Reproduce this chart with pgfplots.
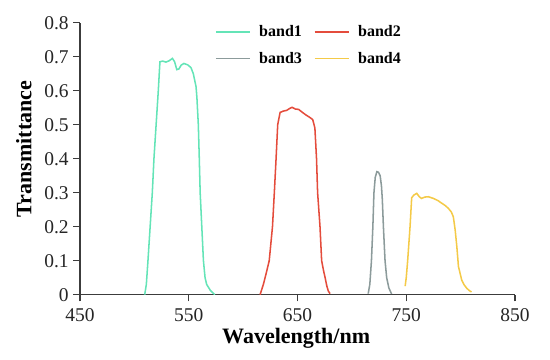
\documentclass[border=0pt]{standalone}
\usepackage{fontspec}
\setmainfont{Liberation Serif}
\usepackage{pgfplots}
\pgfplotsset{compat=1.18}
\definecolor{cgreen}{RGB}{100,228,183}
\definecolor{cred}{RGB}{228,76,60}
\definecolor{cgray}{RGB}{140,155,155}
\definecolor{cyellow}{RGB}{244,202,72}
\definecolor{axc}{RGB}{60,60,60}
\begin{document}
\begin{tikzpicture}
\begin{axis}[
  at={(0,0)}, anchor=south west,
  scale only axis, width=326.25pt, height=204pt,
  xmin=450, xmax=850, ymin=0, ymax=0.8,
  axis lines*=left,
  axis line style={axc, line width=0.9pt},
  tick style={axc, line width=0.9pt},
  tick align=outside, major tick length=5pt,
  xtick={450,550,650,750,850},
  ytick={0,0.1,0.2,0.3,0.4,0.5,0.6,0.7,0.8},
  /pgf/number format/assume math mode=true,
  ticklabel style={font=\fontsize{14.6}{16}\selectfont, text=black!85},
  xticklabel style={yshift=-2pt},
  xlabel={Wavelength/nm}, ylabel={Transmittance},
  label style={font=\fontsize{16.5}{18}\selectfont\bfseries},
  xlabel style={at={(axis description cs:0.497,-0.159)}, anchor=center},
  ylabel style={at={(axis description cs:-0.129,0.536)}, anchor=center},
  legend columns=2,
  legend style={draw=none, fill=none, font=\fontsize{12}{14}\selectfont\bfseries,
    at={(axis description cs:0.527,1.01)}, anchor=north,
    /tikz/every even column/.append style={column sep=7pt},
    /tikz/every odd column/.append style={column sep=4pt},
    row sep=6pt},
  legend image code/.code={\draw[mark repeat=2,mark phase=2,#1] plot coordinates {(0pt,0pt) (13pt,0pt) (26pt,0pt)};},
  every axis plot/.append style={line width=1.15pt},
]
\addplot[cgreen] coordinates {
(509.5,0) (511,0.03) (512.5,0.1) (514.5,0.2) (516.5,0.3) (518,0.4) (520,0.5) (522,0.6) (523.5,0.685)
(526,0.687) (529,0.684) (532,0.688) (535,0.695) (537,0.685) (539,0.662) (541,0.664) (543,0.675)
(545.5,0.68) (549,0.676) (552,0.668) (554.2,0.65) (556.7,0.612) (557.5,0.58) (558.8,0.5) (559.7,0.4)
(560.5,0.3) (562,0.2) (563.5,0.1) (565,0.05) (566.5,0.03) (570,0.012) (574,0) };
\addlegendentry{band1}
\addplot[cred] coordinates {
(615.6,0) (618.6,0.03) (621,0.06) (624,0.1) (627,0.2) (628.7,0.3) (630.3,0.4) (631.8,0.5) (634,0.536)
(637,0.54) (640,0.542) (643,0.548) (645,0.551) (648,0.546) (651,0.545) (655,0.535) (658,0.528) (661,0.522)
(664,0.515) (666,0.49) (667.5,0.4) (668.5,0.3) (670.7,0.2) (672.2,0.1) (674,0.07) (675.4,0.05)
(677,0.025) (678.4,0.01) (680,0.003) };
\addlegendentry{band2}
\addplot[cgray] coordinates {
(715,0.003) (716.5,0.03) (718,0.1) (719.3,0.2) (720.3,0.3) (721.5,0.345) (723,0.362) (724.5,0.36)
(726,0.35) (727.2,0.32) (728,0.28) (729,0.2) (730.5,0.1) (732,0.05) (734,0.02) (736.5,0.002) };
\addlegendentry{band3}
\addplot[cyellow] coordinates {
(749,0.025) (750,0.05) (751.3,0.1) (753.5,0.2) (755,0.285) (757,0.293) (759.7,0.298) (762,0.288)
(764,0.283) (767,0.287) (770.4,0.288) (775,0.283) (779,0.277) (782.6,0.269) (785.5,0.263) (788.7,0.254)
(791.5,0.243) (793.3,0.229) (795,0.19) (796.5,0.142) (798,0.083) (801,0.043) (803,0.03) (805.6,0.019)
(808,0.012) (810,0.008) };
\addlegendentry{band4}
\end{axis}
\path (-60pt,-49pt) rectangle (352.5pt,221pt);
\end{tikzpicture}
\end{document}
